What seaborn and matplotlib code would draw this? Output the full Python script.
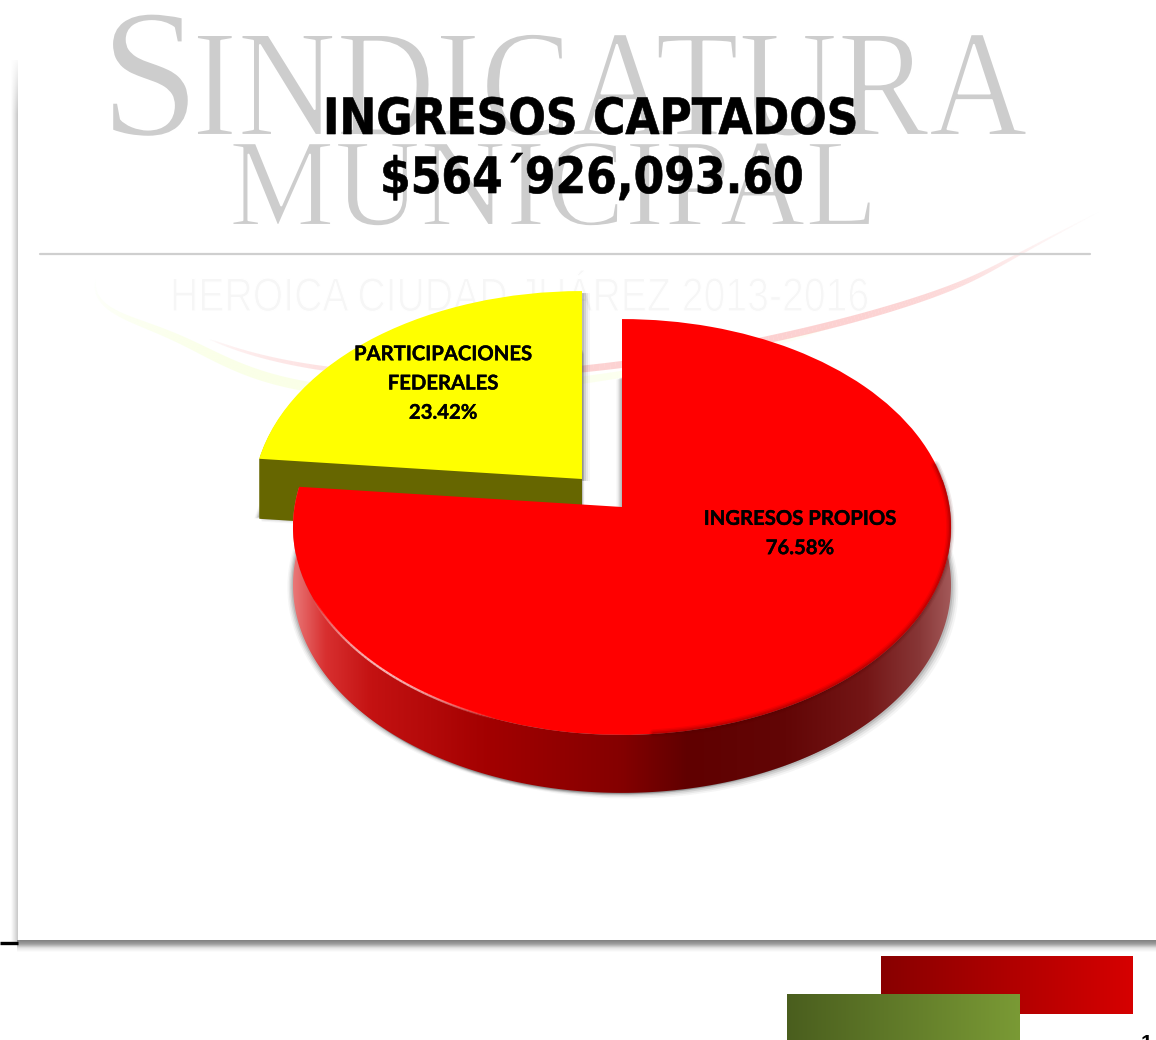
import numpy as np
import matplotlib
matplotlib.use("Agg")
import matplotlib.pyplot as plt
import matplotlib.transforms as mtrans
import matplotlib.patheffects as pe
from matplotlib.colors import LinearSegmentedColormap
from matplotlib.collections import LineCollection
from matplotlib.patches import Polygon
from matplotlib.patheffects import AbstractPathEffect
import seaborn as sns

# ---- data ----
categories = ["PARTICIPACIONES\nFEDERALES", "INGRESOS PROPIOS"]
shares = [23.42, 76.58]
title_lines = ["INGRESOS CAPTADOS", "$564´926,093.60"]
slice_hex = ["#FFFF00", "#FF0000"]
side_hex = ["#666600", "#6a0000"]

sns.set_theme(style="white")
palette = sns.color_palette(slice_hex)
side_palette = sns.color_palette(side_hex)
W, H = 1156, 1040

fig = plt.figure(figsize=(W / 100, H / 100), dpi=100, facecolor="white")
ax = fig.add_axes([0, 0, 1, 1])

# ---- geometry of the tilted pie ----
CX, CY, BX, AY, PERS = 622, 507, 327.5, 206, 0.0961
DEPTH = 58
SHIFT = (-40, -28)


def project(x, y, dx=0, dy=0):
    w = 1 + PERS * y
    return CX + BX * x / w + dx, CY - AY * y / w + dy


class Tilt(mtrans.Transform):
    input_dims = output_dims = 2
    is_separable = False
    has_inverse = False

    def __init__(self, dx=0, dy=0):
        super().__init__()
        self.dx, self.dy = dx, dy

    def transform_non_affine(self, values):
        v = np.asarray(values, float)
        return np.column_stack(project(v[:, 0], v[:, 1], self.dx, self.dy))


class HScale(AbstractPathEffect):
    """Condense a text line horizontally, with an optional outline that thins or thickens it."""

    def __init__(self, sx, edge=None, lw=0.0):
        super().__init__()
        self.sx, self.edge, self.lw = sx, edge, lw

    def draw_path(self, renderer, gc, tpath, affine, rgbFace=None):
        g = renderer.new_gc()
        g.copy_properties(gc)
        if self.edge is not None:
            g.set_foreground(self.edge)
            g.set_linewidth(self.lw)
        else:
            g.set_linewidth(0)
        renderer.draw_path(g, tpath, mtrans.Affine2D().scale(self.sx, 1) + affine, rgbFace)
        g.restore()


def tilted_pie(which, color, dx, dy, z, alpha=1.0):
    wedges, _ = ax.pie(shares, startangle=90, counterclock=True, frame=True,
                       colors=[color, color], wedgeprops=dict(linewidth=0))
    for i, wd in enumerate(wedges):
        if i == which:
            wd.set_transform(Tilt(dx, dy) + ax.transData)
            wd.set_zorder(z)
            wd.set_alpha(alpha)
        else:
            wd.set_visible(False)


def hgrad(x0, x1, y0, y1, stops, z, clip=None, vertical=False):
    cm = LinearSegmentedColormap.from_list("g", stops)
    g = np.linspace(0, 1, 256)
    img = g[:, None] if vertical else g[None, :]
    im = ax.imshow(img, cmap=cm, extent=(x0, x1, y1, y0), aspect="auto",
                   zorder=z, vmin=0, vmax=1, interpolation="bilinear",
                   origin="upper")
    if clip is not None:
        im.set_clip_path(clip)
    return im


def swoosh(px, py, rgb, peak_alpha, peak_width, z=2):
    """Tapered pale stroke along a smooth curve through the guide points."""
    u = np.linspace(0, 1, len(px))
    tt = np.linspace(0, 1, 260)
    cx_ = np.polyval(np.polyfit(u, px, 5), tt)
    cy_ = np.polyval(np.polyfit(u, py, 5), tt)
    pts = np.column_stack([cx_, cy_]).reshape(-1, 1, 2)
    segs = np.concatenate([pts[:-1], pts[1:]], axis=1)
    env = np.sin(np.pi * tt[:-1]) ** 0.8
    cols = np.zeros((len(segs), 4))
    cols[:, :3] = rgb
    cols[:, 3] = peak_alpha * env
    ax.add_collection(LineCollection(segs, colors=cols, linewidths=peak_width * env + .2,
                                     zorder=z, capstyle="butt"))


# ---- slide frame ----
hgrad(11, 18, 60, 945, [(1, 1, 1), (.90, .90, .90), (.78, .78, .78)], 1)
hgrad(10, 19, 55, 115, [(1, 1, 1, 1), (1, 1, 1, 0)], 1.5, vertical=True)
hgrad(17, W, 940, 952, [(.50, .50, .50), (.62, .62, .62), (.90, .90, .90), (1, 1, 1)], 1, vertical=True)
ax.plot([0, 18], [942.5, 942.5], color="black", lw=2.4, zorder=2, solid_capstyle="butt")

# ---- decorative swooshes ----
swoosh([95, 120, 150, 200, 260, 310, 450, 600, 763, 830],
       [278, 310, 330, 352, 372, 382, 396, 382, 342, 324], (.93, 1.0, .62), .24, 7)
swoosh([205, 260, 330, 450, 600, 763, 840, 920, 967, 1027, 1095],
       [340, 352, 368, 378, 372, 338, 320, 300, 280, 253, 213], (.98, .62, .62), .48, 5)

# ---- watermark ----
SERIF = "Liberation Serif"
WM = "#cdcdcd"
ax.text(100, 135, "S", family=SERIF, fontsize=132, color=WM, va="baseline", ha="left", zorder=3,
        path_effects=[HScale(0.98, "white", 1.5)])
ax.text(192, 135, "INDICATURA", family=SERIF, fontsize=110, color=WM, va="baseline", ha="left",
        zorder=3, path_effects=[HScale(0.895, "white", 1.5)])
ax.text(229, 225, "MUNICIPAL", family=SERIF, fontsize=90, color=WM, va="baseline", ha="left",
        zorder=3, path_effects=[HScale(0.95, "white", 1.5)])
ax.text(170, 311, "HEROICA CIUDAD JUÁREZ 2013-2016", family="Liberation Sans", fontsize=34,
        color="#f6f6f6", va="baseline", ha="left", zorder=3, path_effects=[HScale(0.83, "white", .8)])
ax.plot([40, 1090], [253.5, 253.5], color="#cfcfcf", lw=1.6, zorder=3)

# ---- soft shadows ----
for off, a in [(8, .05), (6, .08), (4, .12), (2, .16)]:
    tilted_pie(0, "#404040", SHIFT[0] + off, SHIFT[1] + 2, 4, a)
    tilted_pie(0, "#404040", SHIFT[0] + off * .3, SHIFT[1] + DEPTH + off * .6, 4, a)
    tilted_pie(0, "#404040", SHIFT[0] - off * .6, SHIFT[1] + DEPTH + off * .2, 4, a)
    tilted_pie(1, "#404040", off * .9, DEPTH + off * .7, 7, a)
    tilted_pie(1, "#404040", -off * .7, DEPTH + off * .3, 7, a)

# ---- yellow slice: side then top ----
for d in range(DEPTH + 2, 0, -1):
    tilted_pie(0, side_palette[0], SHIFT[0], SHIFT[1] + d, 5)
tilted_pie(0, palette[0], SHIFT[0], SHIFT[1], 6)

# ---- red slice: shaded side then top ----
theta0 = np.deg2rad(90 + shares[0] / sum(shares) * 360)
theta = np.linspace(theta0, np.deg2rad(374), 300)
rx, ry = project(np.cos(theta), np.sin(theta))
band = np.column_stack([np.r_[rx, rx[::-1]], np.r_[ry, ry[::-1] + DEPTH]])
band_patch = Polygon(band, closed=True, transform=ax.transData, fc="none", ec="none")
ax.add_patch(band_patch)
side_stops = [(0, "#ea7a7a"), (.05, "#d83030"), (.12, "#c41212"), (.30, "#a20000"), (.50, "#840000"),
              (.60, "#600000"), (.75, "#620606"), (.87, "#741616"), (.95, "#873636"), (1, "#a45a5a")]
hgrad(291, 953, 480, 800, side_stops, 9, clip=band_patch)
tilted_pie(1, palette[1], 0, 0, 10)

# rim bevel on the red top
th = np.linspace(np.deg2rad(205), np.deg2rad(250), 60)
hx, hy = project(np.cos(th), np.sin(th))
ax.add_collection(LineCollection(
    np.concatenate([np.column_stack([hx[:-1], hy[:-1]])[:, None, :],
                    np.column_stack([hx[1:], hy[1:]])[:, None, :]], axis=1),
    colors=[(1, .86, .86, .8 * np.sin(np.pi * k / 58)) for k in range(59)],
    linewidths=1.6, zorder=11))
for lw, a in [(6, .08), (4, .12), (2, .18)]:
    th = np.linspace(np.deg2rad(275), np.deg2rad(372), 120)
    dx_, dy_ = project(np.cos(th) * .998, np.sin(th) * .998)
    ax.plot(dx_, dy_, color="#500000", lw=lw, alpha=a, zorder=11)

# ---- slice labels ----
LBL = dict(family="Lato", fontweight="bold", color="black", ha="center", va="center",
           fontsize=14.6, linespacing=1.58, zorder=12,
           path_effects=[pe.withStroke(linewidth=.25, foreground="black")])
ax.text(443, 383.5, f"{categories[0]}\n{shares[0]:.2f}%", **LBL)
ax.text(800, 533.5, f"{categories[1]}\n{shares[1]:.2f}%", **LBL)

# ---- title ----
TTL = dict(family="DejaVu Sans", fontweight="bold", color="black", ha="left", va="baseline",
           fontsize=36, zorder=13)
ax.text(323, 134, title_lines[0], path_effects=[HScale(0.882, "black", .45)], **TTL)
ax.text(380, 193, title_lines[1], path_effects=[HScale(0.882, "black", .45)], **TTL)

# ---- corner decoration ----
hgrad(881, 1133, 956, 1014, ["#880000", "#d60000"], 3)
hgrad(787, 1020, 994, 1041, ["#4a5e1e", "#7a9a35"], 4)
ax.text(1147, 1049, "1", family="Liberation Sans", fontweight="bold", fontsize=15, color="black",
        ha="center", va="baseline", zorder=4)

ax.set_xlim(0, W)
ax.set_ylim(H, 0)
ax.set_aspect("auto")
ax.axis("off")
fig.savefig("out.png", dpi=100, facecolor="white")
